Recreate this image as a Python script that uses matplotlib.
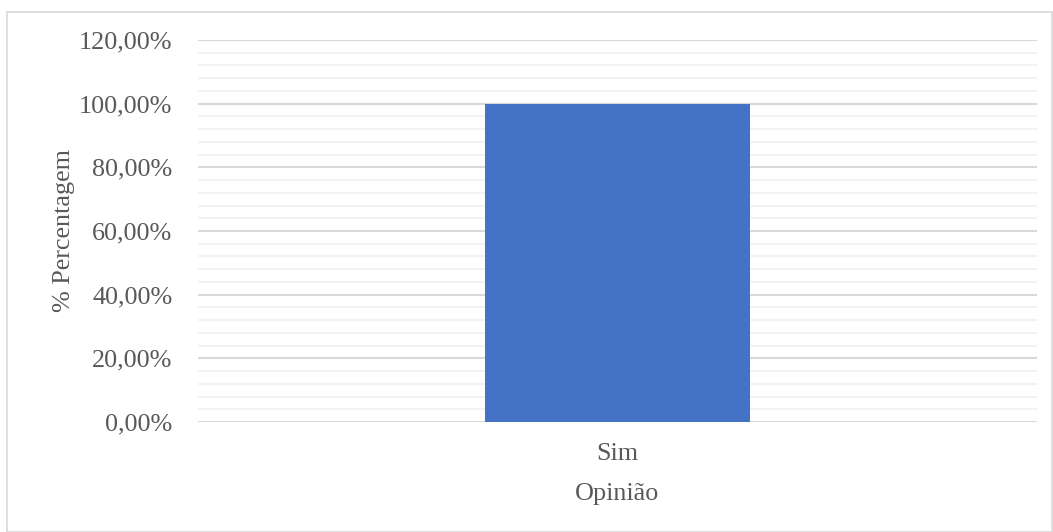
import matplotlib
matplotlib.use("Agg")
import matplotlib.pyplot as plt
from matplotlib.patches import Rectangle
from matplotlib.ticker import MultipleLocator, FuncFormatter

categories = ["Sim"]
values = [100.0]
y_ticks = [0, 20, 40, 60, 80, 100, 120]
x_label = "Opinião"
y_label = "% Percentagem"

plt.rcParams['font.family'] = ['Liberation Serif', 'DejaVu Serif']
txt = '#595959'
fs = 18.8

fig = plt.figure(figsize=(10.53, 5.32), dpi=100)
fig.patches.append(Rectangle((7/1053, 0.5/532), 1045/1053, 520/532, transform=fig.transFigure,
                             fill=False, edgecolor='#d9d9d9', linewidth=1.2))
ax = fig.add_axes([198/1053, 1 - 422/532, 839/1053, 382/532])

ax.bar(range(len(categories)), values, width=0.315, color='#4472C4', zorder=3)
ax.set_xlim(-0.5, len(categories) - 0.5)
ax.set_ylim(0, 120)
ax.set_yticks(y_ticks)
ax.yaxis.set_minor_locator(MultipleLocator(4))
ax.yaxis.set_major_formatter(FuncFormatter(lambda v, p: f"{v:.2f}".replace('.', ',') + "%"))
ax.set_xticks(range(len(categories)))
ax.set_xticklabels(categories)
ax.grid(axis='y', which='major', color='#d9d9d9', linewidth=1.5, zorder=1)
ax.grid(axis='y', which='minor', color='#f2f2f2', linewidth=1.5, zorder=0)
for s in ax.spines.values():
    s.set_visible(False)
ax.tick_params(axis='both', which='both', length=0, colors=txt, labelsize=fs)
ax.tick_params(axis='y', pad=18.5)
ax.tick_params(axis='x', pad=15)
ax.set_xlabel(x_label, fontsize=fs, color=txt, labelpad=13)
ax.set_ylabel(y_label, fontsize=fs, color=txt, labelpad=2.5)

fig.savefig("out.png", dpi=100)
